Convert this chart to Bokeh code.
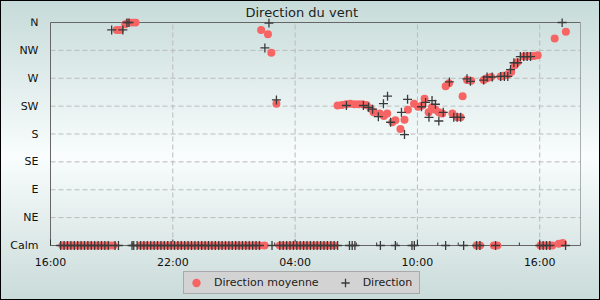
from datetime import datetime, timedelta

from bokeh.plotting import figure
from bokeh.models import (Range1d, FixedTicker, DatetimeTickFormatter, Legend,
                          LegendItem, ColumnDataSource)
from bokeh.embed import file_html
from bokeh.resources import INLINE

# ---------------- data (minutes after 16:00 of day 1, degrees; 0 = Calm) -------------
compass_ticks = [0, 45, 90, 135, 180, 225, 270, 315, 360]
compass_labels = ["Calm", "NE", "E", "SE", "S", "SW", "W", "NW", "N"]

avg_minutes = [
    35, 45, 55, 65, 75, 85, 95, 105, 115, 125, 135, 145, 155, 165, 175, 185,
    195, 205, 220, 230, 240, 250,
    265, 275, 285, 295, 305, 315, 325, 335, 345, 355, 365, 375, 385, 395, 405, 415,
    425, 435, 445, 455, 465, 475, 485, 495, 505, 515, 525, 535, 545, 555, 565, 575,
    585, 595, 605, 615,
    620, 630, 640, 650, 665,
    675, 685, 695, 705, 715, 725, 735, 745, 755, 765, 775, 785, 795, 805, 815, 825, 835,
    845, 858, 870, 882, 894, 906, 918, 930, 942, 951, 969, 981, 991, 1006, 1015,
    1030, 1042, 1052, 1070, 1082, 1094, 1101, 1113, 1123, 1133, 1143, 1153, 1163,
    1173, 1183, 1198, 1207, 1213, 1226, 1238, 1254, 1264, 1275, 1285, 1297, 1305,
    1315, 1325, 1334, 1346, 1356, 1366, 1374, 1393, 1403, 1413, 1423, 1434, 1442,
    1454, 1467, 1477, 1484, 1496, 1508, 1517,
]
avg_degrees = [
    0, 0, 0, 0, 0, 0, 0, 0, 0, 0, 0, 0, 0, 0, 0, 0,
    348, 348, 357, 360, 360, 360,
    0, 0, 0, 0, 0, 0, 0, 0, 0, 0, 0, 0, 0, 0, 0, 0,
    0, 0, 0, 0, 0, 0, 0, 0, 0, 0, 0, 0, 0, 0, 0, 0,
    0, 0, 0, 0,
    348, 0, 341, 311, 229,
    0, 0, 0, 0, 0, 0, 0, 0, 0, 0, 0, 0, 0, 0, 0, 0, 0,
    226, 227, 228, 229, 228, 228, 228, 227, 221, 215, 213, 209, 213, 199, 202,
    188, 203, 219, 229, 224, 226, 237, 215, 223, 219, 215, 213, 257,
    262, 213, 207, 207, 241, 267, 266, 0, 0, 267, 270, 272, 0,
    0, 273, 274, 276, 280, 291, 296, 305, 306, 306, 306, 307, 0,
    0, 0, 0, 334, 3, 4, 345,
]

dir_minutes = [
    30, 40, 50, 60, 70, 80, 90, 100, 110, 120, 130, 140, 150, 160, 170,
    180, 190, 200, 213, 225, 231, 240, 245,
    255, 265, 275, 285, 295, 305, 315, 325, 335, 345, 355, 365, 375, 385, 395, 405,
    415, 425, 435, 445, 455, 465, 475, 485, 495, 505, 515, 525, 535, 545, 555, 565,
    575, 585, 595, 605, 615,
    631, 643, 652, 665,
    675, 685, 695, 705, 715, 725, 735, 745, 755, 765, 775, 785, 795, 805, 815, 825, 835, 845,
    871, 880, 888, 896, 921, 936, 948, 965, 971, 980, 992, 1001, 1015, 1033, 1042,
    1051, 1064, 1071, 1092, 1104, 1114, 1123, 1133, 1143, 1156, 1163, 1174, 1187,
    1197, 1207, 1216, 1226, 1236, 1254, 1264, 1275, 1285, 1300, 1310, 1325, 1336,
    1346, 1354, 1364, 1375, 1383, 1393, 1403, 1413, 1440, 1450, 1460, 1470, 1506, 1516,
]
dir_degrees = [
    0, 0, 0, 0, 0, 0, 0, 0, 0, 0, 0, 0, 0, 0, 0,
    348, 0, 0, 348, 360, 360, 0, 0,
    0, 0, 0, 0, 0, 0, 0, 0, 0, 0, 0, 0, 0, 0, 0, 0,
    0, 0, 0, 0, 0, 0, 0, 0, 0, 0, 0, 0, 0, 0, 0, 0,
    0, 0, 0, 0, 0,
    319, 359, 0, 235,
    0, 0, 0, 0, 0, 0, 0, 0, 0, 0, 0, 0, 0, 0, 0, 0, 0, 0,
    226, 0, 0, 0, 226, 223, 220, 208, 0, 229, 241, 199, 0, 215, 179,
    236, 0, 0, 224, 231, 207, 234, 228, 201, 215, 0, 264, 207,
    207, 207, 0, 269, 265, 0, 0, 267, 272, 272, 0, 273, 273,
    273, 284, 295, 295, 305, 305, 305, 305, 0, 0, 0, 0, 360, 0,
]

major_tick_minutes = [0, 360, 720, 1080, 1440]
span_minutes = 26 * 60

# ---------------- helpers ----------------
START = datetime(2024, 5, 1, 16, 0)
EPOCH = datetime(1970, 1, 1)


def ms(minutes):
    return (START + timedelta(minutes=minutes) - EPOCH).total_seconds() * 1000.0


FONT = "DejaVu Sans"
DEG_PER_PX = 360 / 223.0          # Calm at 245 px, N at 22 px
x0, x1 = ms(0), ms(span_minutes)  # plot area: 50 px .. 580 px
MS_PER_PX = (x1 - x0) / 530.0
TOP = 18                          # frame top (px)
# the frame spans the whole left side and the bottom so that axis labels and the
# legend (all placed inside it) are not clipped
x_lo = x0 - 50 * MS_PER_PX
y_lo = -(300 - 245) * DEG_PER_PX
y_hi = 360 + (22 - TOP) * DEG_PER_PX

p = figure(width=600, height=300, x_axis_type="datetime",
           x_range=Range1d(x_lo, x1), y_range=Range1d(y_lo, y_hi),
           output_backend="svg", toolbar_location=None,
           min_border_left=0, min_border_right=20,
           min_border_top=TOP, min_border_bottom=0,
           title="Direction du vent")

p.styles = {
    "background": "linear-gradient(to bottom, #c6dbd9 0%, #f9fdfd 52%, #c9dbd9 100%)",
    "outline": "1px solid #000",
    "outline-offset": "-1px",
}
p.background_fill_color = None
p.border_fill_color = None
p.outline_line_color = None

p.title.align = "left"
p.title.offset = 245
p.title.standoff = -2
p.title.text_font = FONT
p.title.text_font_size = "13px"
p.title.text_font_style = "normal"
p.title.text_color = "#222222"

# y axis on the left edge of the plot area: compass labels, no ticks, no line
p.yaxis.ticker = FixedTicker(ticks=compass_ticks)
p.yaxis.major_label_overrides = dict(zip(compass_ticks, compass_labels))
p.yaxis.fixed_location = x0
p.yaxis.axis_line_color = None
p.yaxis.major_tick_line_color = None
p.yaxis.minor_tick_line_color = None
p.yaxis.major_label_standoff = 6
p.yaxis.major_label_text_font = FONT
p.yaxis.major_label_text_font_size = "11px"
p.yaxis.major_label_text_color = "#111111"
p.ygrid.grid_line_color = None

# x axis placed on the Calm level: labels only (line and ticks drawn below)
major_ms = [ms(m) for m in major_tick_minutes]
minor_ms = [ms(m) for m in range(0, span_minutes + 1, 60)]
p.xaxis.ticker = FixedTicker(ticks=major_ms, minor_ticks=minor_ms)
p.xaxis.formatter = DatetimeTickFormatter(hours="%H:%M", hourmin="%H:%M",
                                          days="%H:%M", minutes="%H:%M",
                                          minsec="%H:%M", seconds="%H:%M",
                                          context=None)
p.xaxis.fixed_location = 0
p.xaxis.axis_line_color = None
p.xaxis.major_tick_line_color = None
p.xaxis.minor_tick_line_color = None
p.xaxis.major_label_standoff = 4
p.xaxis.major_label_text_font = FONT
p.xaxis.major_label_text_font_size = "11px"
p.xaxis.major_label_text_color = "#111111"
p.xgrid.grid_line_color = None

GRID = dict(line_color="#bbbbbb", line_dash="5 3", line_width=1)
# horizontal dashed grid at the compass points
p.segment(x0=[x0] * len(compass_ticks), y0=compass_ticks,
          x1=[x1] * len(compass_ticks), y1=compass_ticks, **GRID)
# vertical dashed grid between Calm and N
p.segment(x0=major_ms, y0=[0] * len(major_ms), x1=major_ms, y1=[360] * len(major_ms), **GRID)
# frame: left, top, right, and the time axis on the Calm level
p.segment(x0=[x0, x0, x1, x0], y0=[0, 360, 0, 0], x1=[x0, x1, x1, x1], y1=[360, 360, 360, 0],
          line_color="#666666", line_width=1)
# inward ticks on the time axis
p.segment(x0=major_ms, y0=[0] * len(major_ms), x1=major_ms,
          y1=[6 * DEG_PER_PX] * len(major_ms), line_color="#333333", line_width=1)
p.segment(x0=minor_ms, y0=[0] * len(minor_ms), x1=minor_ms,
          y1=[3 * DEG_PER_PX] * len(minor_ms), line_color="#333333", line_width=1)

avg_src = ColumnDataSource(dict(x=[ms(m) for m in avg_minutes], y=avg_degrees))
dir_src = ColumnDataSource(dict(x=[ms(m) for m in dir_minutes], y=dir_degrees))

r_avg = p.scatter("x", "y", source=avg_src, marker="circle", size=8,
                  fill_color="#f76464", line_color=None)
r_dir = p.scatter("x", "y", source=dir_src, marker="cross", size=9,
                  line_color="#3a3a3a", line_width=1.3)

legend = Legend(items=[LegendItem(label="Direction moyenne", renderers=[r_avg]),
                       LegendItem(label="Direction", renderers=[r_dir])],
                orientation="horizontal", location=(183, 6))
legend.background_fill_color = "#d3d3d3"
legend.background_fill_alpha = 1
legend.border_line_color = "#808080"
legend.border_line_width = 1
legend.padding = 0
legend.margin = 0
legend.spacing = 14
legend.label_standoff = 6
legend.glyph_width = 24
legend.glyph_height = 21
legend.label_height = 21
legend.label_width = 56
legend.label_text_font = FONT
legend.label_text_font_size = "11px"
legend.label_text_color = "#222222"
p.add_layout(legend)

open("out.html", "w").write(file_html(p, INLINE))
